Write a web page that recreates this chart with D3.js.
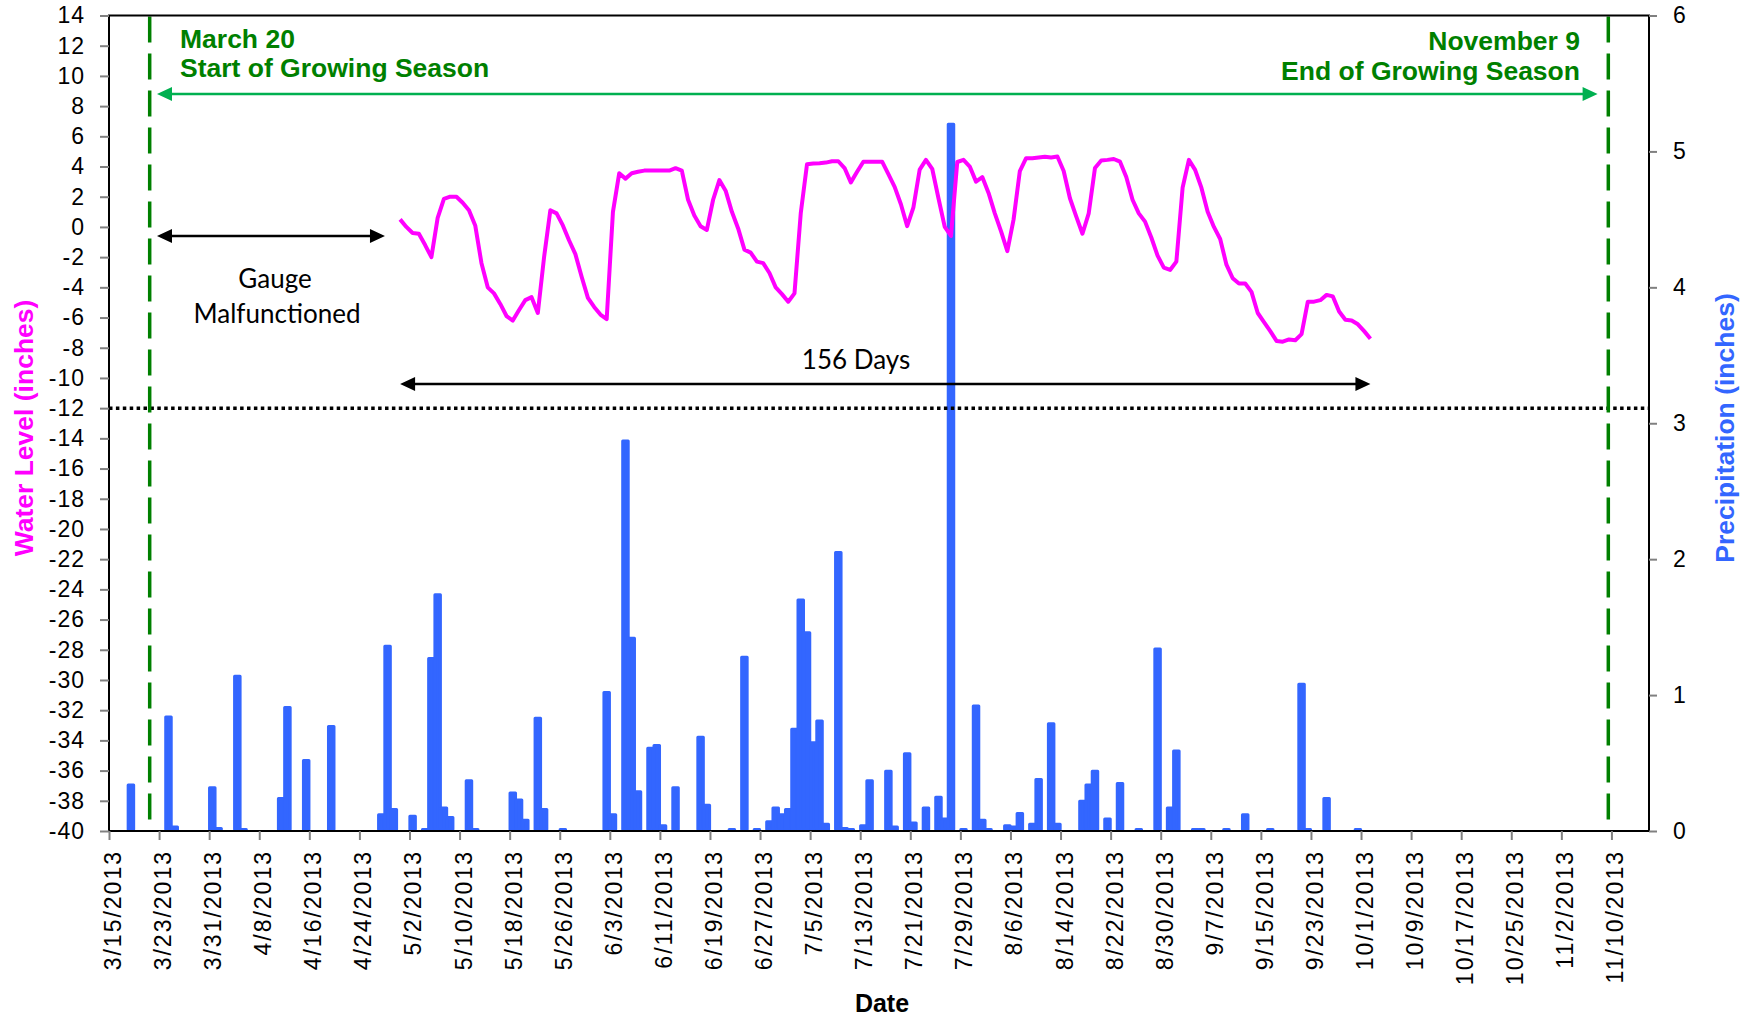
<!DOCTYPE html>
<html>
<head>
<meta charset="utf-8">
<script src="https://cdn.jsdelivr.net/npm/d3@7"></script>
<style>
  body { margin: 0; background: #fff; }
  text { font-family: "Liberation Sans", Arial, sans-serif; }
  .tick text { font-size: 23px; fill: #000; letter-spacing: 1px; }
  .tick line { stroke: #808080; stroke-width: 2; }
  .note { font-family: Lato, "Open Sans", sans-serif; font-size: 26px; fill: #000; }
  .season { font-size: 26.5px; font-weight: bold; fill: #008000; }
</style>
</head>
<body>
<div id="chart"></div>
<script>
// ---- data ----
var xTickLabels = ["3/15/2013", "3/23/2013", "3/31/2013", "4/8/2013", "4/16/2013", "4/24/2013",
  "5/2/2013", "5/10/2013", "5/18/2013", "5/26/2013", "6/3/2013", "6/11/2013", "6/19/2013",
  "6/27/2013", "7/5/2013", "7/13/2013", "7/21/2013", "7/29/2013", "8/6/2013", "8/14/2013",
  "8/22/2013", "8/30/2013", "9/7/2013", "9/15/2013", "9/23/2013", "10/1/2013", "10/9/2013",
  "10/17/2013", "10/25/2013", "11/2/2013", "11/10/2013"];
var xDomain = ["3/15/2013", "11/16/2013"];
var levelTicks = [-40, -38, -36, -34, -32, -30, -28, -26, -24, -22, -20, -18, -16, -14, -12,
  -10, -8, -6, -4, -2, 0, 2, 4, 6, 8, 10, 12, 14];
var precipTicks = [0, 1, 2, 3, 4, 5, 6];

// daily water level (inches), 4/30/2013 .. 10/2/2013
var levelStart = "4/30/2013";
var levelValues = [
  0.5, 0.0, -0.4, -0.45, -1.2, -2.0, 0.6, 1.85, 2.0, 2.0,
  1.6, 1.1, 0.1, -2.4, -4.0, -4.4, -5.1, -5.9, -6.2, -5.5,
  -4.85, -4.65, -5.7, -2.0, 1.1, 0.9, 0.1, -0.9, -1.8, -3.3,
  -4.7, -5.3, -5.8, -6.1, 1.0, 3.55, 3.2, 3.55, 3.65, 3.73,
  3.73, 3.73, 3.73, 3.73, 3.89, 3.73, 1.8, 0.75, 0.05, -0.2,
  1.8, 3.1, 2.4, 1.0, -0.1, -1.5, -1.7, -2.3, -2.4, -3.05,
  -4.0, -4.45, -4.95, -4.4, 0.9, 4.15, 4.2, 4.22, 4.26, 4.35,
  4.35, 3.9, 2.95, 3.65, 4.32, 4.32, 4.32, 4.32, 3.5, 2.65,
  1.5, 0.05, 1.3, 3.8, 4.44, 3.85, 1.9, 0.0, -0.6, 4.3,
  4.44, 4.0, 3.0, 3.3, 2.25, 0.9, -0.3, -1.6, 0.5, 3.7,
  4.55, 4.55, 4.6, 4.65, 4.6, 4.66, 3.7, 1.9, 0.7, -0.45,
  0.9, 3.9, 4.4, 4.44, 4.5, 4.32, 3.3, 1.8, 0.9, 0.35,
  -0.7, -1.9, -2.7, -2.85, -2.3, 2.6, 4.44, 3.78, 2.6, 1.0,
  0.0, -0.8, -2.5, -3.4, -3.75, -3.75, -4.3, -5.7, -6.3, -6.9,
  -7.55, -7.6, -7.45, -7.5, -7.1, -4.95, -4.95, -4.85, -4.5, -4.6,
  -5.6, -6.15, -6.2, -6.45, -6.9, -7.4
];

// daily precipitation (inches)
var precipDates = ["3/18", "3/24", "3/25", "3/31", "4/1", "4/4", "4/5", "4/11", "4/12", "4/15",
  "4/19", "4/27", "4/28", "4/29", "5/2", "5/4", "5/5", "5/6", "5/7", "5/8",
  "5/11", "5/12", "5/18", "5/19", "5/20", "5/22", "5/23", "5/26", "6/2", "6/3",
  "6/5", "6/6", "6/7", "6/9", "6/10", "6/11", "6/13", "6/17", "6/18", "6/22",
  "6/24", "6/26", "6/28", "6/29", "6/30", "7/1", "7/2", "7/3", "7/4", "7/5",
  "7/6", "7/7", "7/9", "7/10", "7/11", "7/13", "7/14", "7/17", "7/18", "7/20",
  "7/21", "7/23", "7/25", "7/26", "7/27", "7/29", "7/31", "8/1", "8/2", "8/5",
  "8/6", "8/7", "8/9", "8/10", "8/12", "8/13", "8/17", "8/18", "8/19", "8/21",
  "8/23", "8/26", "8/29", "8/31", "9/1", "9/4", "9/5", "9/9", "9/12", "9/16",
  "9/21", "9/22", "9/25", "9/30"];
var precipValues = [0.35, 0.85, 0.04, 0.33, 0.03, 1.15, 0.02, 0.25, 0.92, 0.53,
  0.78, 0.13, 1.37, 0.17, 0.12, 0.02, 1.28, 1.75, 0.18, 0.11,
  0.38, 0.02, 0.29, 0.24, 0.09, 0.84, 0.17, 0.02, 1.03, 0.13,
  2.88, 1.43, 0.30, 0.62, 0.64, 0.05, 0.33, 0.70, 0.20, 0.01,
  1.29, 0.01, 0.08, 0.18, 0.13, 0.17, 0.76, 1.71, 1.47, 0.66,
  0.82, 0.06, 2.06, 0.03, 0.01, 0.05, 0.38, 0.45, 0.04, 0.58,
  0.07, 0.18, 0.26, 0.10, 5.21, 0.01, 0.93, 0.09, 0.02, 0.05,
  0.04, 0.14, 0.06, 0.39, 0.80, 0.06, 0.23, 0.35, 0.45, 0.10,
  0.36, 0.01, 1.35, 0.18, 0.60, 0.02, 0.02, 0.01, 0.13, 0.01,
  1.09, 0.01, 0.25, 0.01];

var seasonStart = "3/21/2013";   // plotted position of the "March 20" line
var seasonEnd = "11/9/2013";
var thresholdLevel = -12;

// ---- layout ----
var svgWidth = 1761;
var svgHeight = 1021;
var margin = { top: 15.5, right: 112, bottom: 190, left: 109 };
var width = svgWidth - margin.left - margin.right;
var height = svgHeight - margin.top - margin.bottom;

var parse = d3.utcParse("%m/%d/%Y");
var halfDay = d => d3.utcHour.offset(d, 12);

var svg = d3.select("#chart").append("svg")
  .attr("width", svgWidth)
  .attr("height", svgHeight);

var chartGroup = svg.append("g")
  .attr("transform", `translate(${margin.left}, ${margin.top})`);

var x = d3.scaleUtc().domain(xDomain.map(parse)).range([0, width]);
var yLevel = d3.scaleLinear().domain([-40, 14]).range([height, 0]);
var yPrecip = d3.scaleLinear().domain([0, 6]).range([height, 0]);

// precipitation bars (outlined with round joins like the original)
var barW = 5.5;
var bars = precipDates.map((d, i) => ({ date: parse(d + "/2013"), value: precipValues[i] }));
chartGroup.append("g").selectAll("path")
  .data(bars)
  .enter()
  .append("path")
  .attr("d", function(d) {
    var cx = x(halfDay(d.date));
    var top = Math.min(yPrecip(d.value) + 1.5, height - 1.5);
    return `M${cx - barW / 2},${height - 1.5}V${top}H${cx + barW / 2}V${height - 1.5}Z`;
  })
  .attr("fill", "#3366FF")
  .attr("stroke", "#3366FF")
  .attr("stroke-width", 3)
  .attr("stroke-linejoin", "round");

// water level line
var levelData = levelValues.map((v, i) => ({ date: d3.utcDay.offset(parse(levelStart), i), value: v }));
var line = d3.line()
  .x(d => x(halfDay(d.date)))
  .y(d => yLevel(d.value));
chartGroup.append("path")
  .datum(levelData)
  .attr("d", line)
  .attr("fill", "none")
  .attr("stroke", "#FF00FF")
  .attr("stroke-width", 4)
  .attr("stroke-linejoin", "round");

// threshold dotted line
chartGroup.append("line")
  .attr("x1", 0).attr("x2", width)
  .attr("y1", yLevel(thresholdLevel)).attr("y2", yLevel(thresholdLevel))
  .attr("stroke", "#000")
  .attr("stroke-width", 3.5)
  .attr("stroke-dasharray", "3.5 3.4");

// growing season dashed lines
[seasonStart, seasonEnd].forEach(function(s) {
  var sx = x(halfDay(parse(s)));
  chartGroup.append("line")
    .attr("x1", sx).attr("x2", sx)
    .attr("y1", 1).attr("y2", height)
    .attr("stroke", "#008000")
    .attr("stroke-width", 3.5)
    .attr("stroke-dasharray", "26 11");
});

// double headed arrow helper
function arrow(x1, x2, y, color) {
  var hl = 15, hh = 7;
  chartGroup.append("line")
    .attr("x1", x1 + hl - 2).attr("x2", x2 - hl + 2)
    .attr("y1", y).attr("y2", y)
    .attr("stroke", color).attr("stroke-width", 2.5);
  chartGroup.append("path")
    .attr("d", `M${x1},${y}L${x1 + hl},${y - hh}L${x1 + hl},${y + hh}Z M${x2},${y}L${x2 - hl},${y - hh}L${x2 - hl},${y + hh}Z`)
    .attr("fill", color);
}

var dayX = (s, n) => x(d3.utcHour.offset(parse(s), n * 24));
arrow(dayX("3/15/2013", 7.7), dayX("3/15/2013", 237.8), yLevel(8.8), "#00B050");
arrow(dayX("3/15/2013", 7.7), dayX("3/15/2013", 44.1), yLevel(-0.6), "#000");
arrow(x(halfDay(levelData[0].date)), x(halfDay(levelData[levelData.length - 1].date)), yLevel(-10.4), "#000");

// frame
chartGroup.append("rect")
  .attr("width", width).attr("height", height)
  .attr("fill", "none").attr("stroke", "#000").attr("stroke-width", 2);

// axes
var plain = d => String(d);
var bottomAxis = d3.axisBottom(x)
  .tickValues(xTickLabels.map(parse))
  .tickFormat((d, i) => xTickLabels[i])
  .tickSize(9).tickSizeOuter(0);
var xAxis = chartGroup.append("g")
  .attr("transform", `translate(0, ${height})`)
  .call(bottomAxis);
xAxis.selectAll(".tick text")
  .attr("transform", "rotate(-90)")
  .attr("x", -19)
  .attr("y", 0)
  .attr("dy", "0.5em")
  .attr("text-anchor", "end")
  .style("letter-spacing", "2px");

var leftAxis = d3.axisLeft(yLevel).tickValues(levelTicks).tickFormat(plain)
  .tickSize(9).tickPadding(15).tickSizeOuter(0);
var yAxis = chartGroup.append("g").call(leftAxis);

var rightAxis = d3.axisRight(yPrecip).tickValues(precipTicks).tickFormat(plain)
  .tickSize(8).tickPadding(16).tickSizeOuter(0);
var yAxis2 = chartGroup.append("g")
  .attr("transform", `translate(${width}, 0)`)
  .call(rightAxis);

[xAxis, yAxis, yAxis2].forEach(a => a.select(".domain").remove());
[xAxis, yAxis, yAxis2].forEach(a => a.attr("font-family", null).attr("font-size", null));

// axis titles
svg.append("text")
  .attr("transform", `translate(32.5, 428) rotate(-90)`)
  .attr("text-anchor", "middle")
  .style("font-size", "26.5px").style("font-weight", "bold")
  .attr("fill", "#FF00FF")
  .text("Water Level (inches)");

svg.append("text")
  .attr("transform", `translate(1734, 428) rotate(-90)`)
  .attr("text-anchor", "middle")
  .style("font-size", "26.5px").style("font-weight", "bold")
  .attr("fill", "#3366FF")
  .text("Precipitation (inches)");

svg.append("text")
  .attr("x", 882).attr("y", 1012)
  .attr("text-anchor", "middle")
  .style("font-size", "25px").style("font-weight", "bold")
  .text("Date");

// season labels
svg.append("text").attr("class", "season").attr("x", 180).attr("y", 48).text("March 20");
svg.append("text").attr("class", "season").attr("x", 180).attr("y", 77).text("Start of Growing Season");
svg.append("text").attr("class", "season").attr("x", 1580).attr("y", 50)
  .attr("text-anchor", "end").text("November 9");
svg.append("text").attr("class", "season").attr("x", 1580).attr("y", 80)
  .attr("text-anchor", "end").text("End of Growing Season");

// notes
svg.append("text").attr("class", "note").attr("x", 275).attr("y", 288)
  .attr("text-anchor", "middle").text("Gauge");
svg.append("text").attr("class", "note").attr("x", 277).attr("y", 323)
  .attr("text-anchor", "middle").text("Malfunctioned");
svg.append("text").attr("class", "note").attr("x", 856).attr("y", 369)
  .attr("text-anchor", "middle").text("156 Days");
</script>
</body>
</html>
